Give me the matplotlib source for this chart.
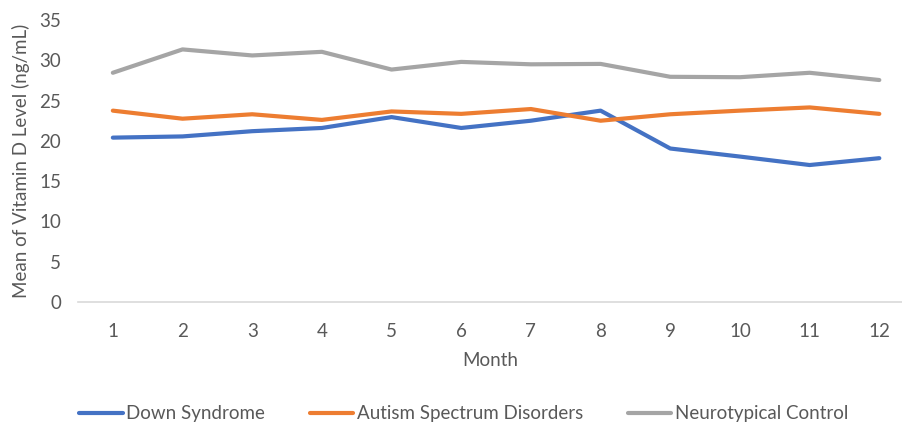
import matplotlib
matplotlib.use("Agg")
import matplotlib.pyplot as plt

months = list(range(1, 13))
month_labels = [str(m) for m in months]
down_syndrome = [20.4, 20.55, 21.2, 21.6, 22.95, 21.6, 22.5, 23.75, 19.05, 18.05, 17.0, 17.85]
autism = [23.75, 22.75, 23.3, 22.6, 23.65, 23.35, 23.95, 22.5, 23.3, 23.75, 24.15, 23.35]
neurotypical = [28.45, 31.35, 30.6, 31.05, 28.85, 29.8, 29.5, 29.55, 27.95, 27.9, 28.45, 27.55]
series_names = ["Down Syndrome", "Autism Spectrum Disorders", "Neurotypical Control"]
colors = ["#4472C4", "#ED7D31", "#A5A5A5"]

plt.rcParams['font.family'] = ['Lato', 'DejaVu Sans']
txt = "#595959"
fs = 13.5

fig = plt.figure(figsize=(9.03, 4.24), dpi=100)
ax = fig.add_axes([78/903, 1 - 302/424, 1 - 78/903, (302 - 20)/424])

for vals, name, c in zip([down_syndrome, autism, neurotypical], series_names, colors):
    ax.plot(months, vals, color=c, lw=3, label=name, solid_capstyle='round', solid_joinstyle='round')

ax.set_ylim(0, 35)
ax.set_yticks(range(0, 36, 5))
ax.set_xlim(0.5, 12.34)
ax.set_xticks(months)
ax.set_xticklabels(month_labels)
for s in ['top', 'right', 'left']:
    ax.spines[s].set_visible(False)
ax.spines['bottom'].set_color('#D9D9D9')
ax.spines['bottom'].set_linewidth(1.2)
ax.tick_params(axis='both', length=0, colors=txt, labelsize=fs)
ax.tick_params(axis='x', pad=15)
ax.tick_params(axis='y', pad=12)
ax.set_xlabel("Month", color=txt, fontsize=fs, labelpad=9)
ax.set_ylabel("Mean of Vitamin D Level (ng/mL)", color=txt, fontsize=fs, labelpad=7)

leg = fig.legend(loc='center', bbox_to_anchor=(464/903, 1 - 414/424), ncol=3, frameon=False,
                 fontsize=fs, handlelength=2.3, handletextpad=0.2, columnspacing=2.4)
for t in leg.get_texts():
    t.set_color(txt)

fig.savefig("out.png", dpi=100)
